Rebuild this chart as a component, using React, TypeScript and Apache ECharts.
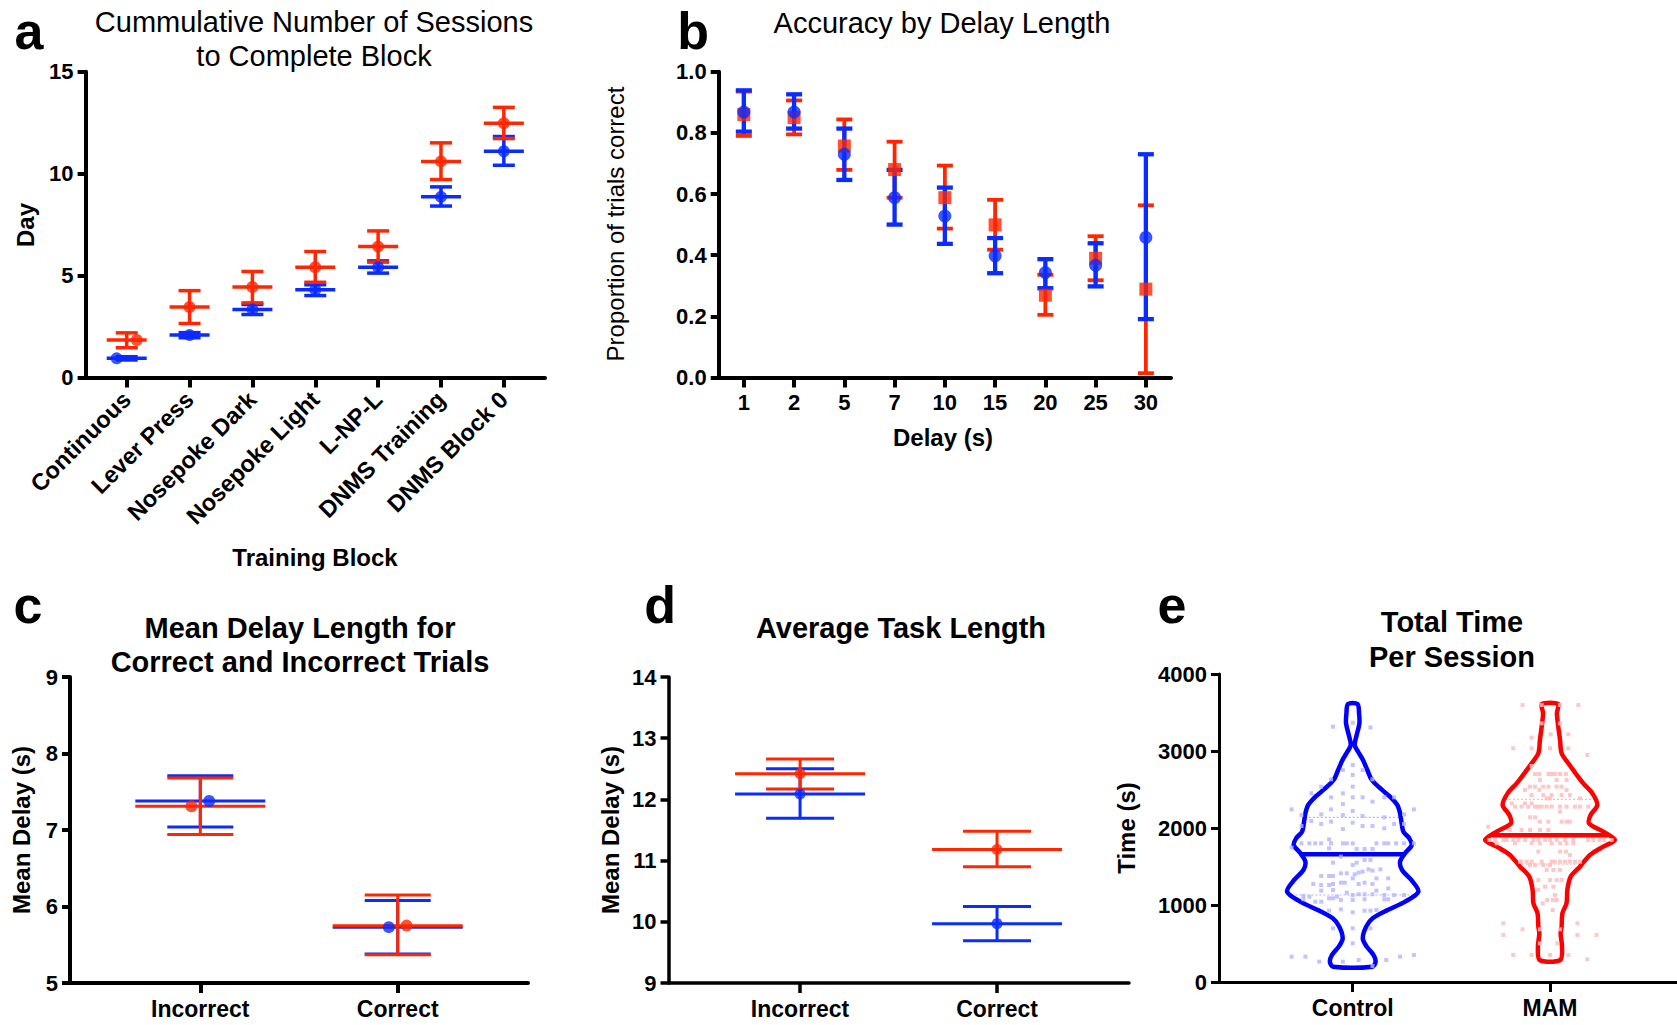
import React, { useEffect, useRef } from 'react';
import * as echarts from 'echarts';

// ---------- Panel a ----------
const aCategories = ['Continuous', 'Lever Press', 'Nosepoke Dark', 'Nosepoke Light', 'L-NP-L', 'DNMS Training', 'DNMS Block 0'];
const aMamMean = [1.84, 3.46, 4.44, 5.41, 6.42, 10.6, 12.47];
const aMamLow = [1.46, 2.65, 3.66, 4.67, 5.66, 9.71, 11.72];
const aMamHigh = [2.19, 4.26, 5.2, 6.18, 7.19, 11.51, 13.25];
const aCtrlMean = [0.94, 2.08, 3.33, 4.31, 5.41, 8.86, 11.1];
const aCtrlLow = [0.86, 1.95, 3.09, 4.02, 5.12, 8.41, 10.41];
const aCtrlHigh = [1.02, 2.2, 3.58, 4.55, 5.72, 9.35, 11.82];
const aMamJitter = [0.16, 0, 0, 0, 0, 0, 0];
const aCtrlJitter = [-0.16, 0, 0, 0, 0, 0, 0];

// ---------- Panel b ----------
const bDelays = ['1', '2', '5', '7', '10', '15', '20', '25', '30'];
const bMamMean = [0.86, 0.85, 0.757, 0.68, 0.588, 0.499, 0.269, 0.39, 0.289];
const bMamLow = [0.79, 0.795, 0.679, 0.588, 0.487, 0.418, 0.205, 0.318, 0.014];
const bMamHigh = [0.935, 0.906, 0.844, 0.771, 0.693, 0.581, 0.336, 0.462, 0.563];
const bCtrlMean = [0.868, 0.868, 0.73, 0.588, 0.528, 0.398, 0.343, 0.367, 0.458];
const bCtrlLow = [0.804, 0.814, 0.646, 0.5, 0.437, 0.341, 0.292, 0.298, 0.191];
const bCtrlHigh = [0.939, 0.926, 0.814, 0.679, 0.621, 0.456, 0.387, 0.439, 0.73];

// ---------- Panel c ----------
const cCategories = ['Incorrect', 'Correct'];
const cMamMean = [7.31, 5.75];
const cMamLow = [6.94, 5.37];
const cMamHigh = [7.68, 6.15];
const cCtrlMean = [7.38, 5.73];
const cCtrlLow = [7.04, 5.38];
const cCtrlHigh = [7.71, 6.08];
const cMamJitter = [-0.045, 0.045];
const cCtrlJitter = [0.045, -0.045];

// ---------- Panel d ----------
const dCategories = ['Incorrect', 'Correct'];
const dMamMean = [12.42, 11.18];
const dMamLow = [12.17, 10.9];
const dMamHigh = [12.66, 11.48];
const dCtrlMean = [12.09, 9.97];
const dCtrlLow = [11.69, 9.69];
const dCtrlHigh = [12.5, 10.25];

// ---------- Panel e ----------
const eGroups = ['Control', 'MAM'];
const eMedian = [1660, 1905];
const eQ1 = [1130, 1532];
const eQ3 = [2139, 2372];
// [value, half width in category units]
const ctrlViolin = [[3610, 0.024], [3489, 0.032], [3359, 0.034], [3208, 0.02], [3078, 0.01], [2991, 0.027], [2883, 0.052], [2753, 0.074], [2623, 0.097], [2494, 0.149], [2407, 0.189], [2299, 0.226], [2190, 0.24], [2061, 0.248], [1952, 0.257], [1866, 0.287], [1779, 0.299], [1671, 0.265], [1563, 0.24], [1455, 0.25], [1325, 0.297], [1173, 0.333], [1043, 0.266], [935, 0.177], [827, 0.101], [719, 0.068], [567, 0.051], [459, 0.071], [351, 0.105], [264, 0.116], [199, 0.1]];
const mamViolin = [[3610, 0.041], [3489, 0.035], [3316, 0.042], [3143, 0.051], [2970, 0.059], [2840, 0.093], [2710, 0.13], [2580, 0.169], [2450, 0.215], [2299, 0.24], [2169, 0.206], [2061, 0.198], [1952, 0.27], [1844, 0.329], [1758, 0.27], [1649, 0.203], [1498, 0.152], [1368, 0.105], [1195, 0.088], [1022, 0.084], [892, 0.063], [719, 0.059], [632, 0.054], [459, 0.061], [286, 0.052]];
// [offset from group centre in category units, seconds]
const ctrlDots = [[-0.10, 3316], [0, 3368], [0.09, 3307], [0, 2818], [-0.05, 2753], [0.05, 2753], [0, 2688], [-0.11, 2632], [0.10, 2632], [-0.16, 2537], [0, 2537], [-0.21, 2450], [-0.05, 2450], [-0.11, 2398], [0, 2398], [0.05, 2398], [0.16, 2398], [0.21, 2398], [0.10, 2342], [-0.05, 2312], [-0.31, 2242], [-0.11, 2242], [0, 2221], [0.31, 2242], [-0.26, 2169], [-0.16, 2177], [-0.05, 2169], [0.05, 2156], [0.26, 2177], [0.16, 2139], [-0.21, 2091], [-0.11, 2082], [0, 2069], [0.21, 2052], [0.26, 2052], [-0.26, 2026], [-0.16, 2052], [-0.05, 1987], [0.05, 2026], [0.10, 2026], [0.16, 1996], [-0.26, 1801], [-0.22, 1801], [-0.19, 1801], [-0.16, 1801], [-0.11, 1801], [-0.05, 1801], [-0.03, 1801], [0, 1801], [0.12, 1801], [0.16, 1801], [0.18, 1801], [0.22, 1801], [0.26, 1801], [0.31, 1801], [-0.31, 1745], [-0.12, 1853], [-0.12, 1736], [0.02, 1727], [0.06, 1727], [0.10, 1727], [-0.06, 1628], [0.06, 1584], [0.02, 1550], [0.09, 1584], [0, 1519], [-0.10, 1550], [0.08, 1463], [0.05, 1433], [0.14, 1463], [-0.16, 1377], [-0.12, 1377], [-0.10, 1377], [-0.06, 1411], [-0.03, 1411], [0.01, 1398], [0.03, 1420], [0.10, 1446], [0, 1346], [0.12, 1346], [0.18, 1346], [-0.20, 1273], [-0.16, 1260], [-0.12, 1260], [-0.10, 1273], [-0.06, 1290], [-0.04, 1290], [0.03, 1273], [0.06, 1290], [0.10, 1273], [-0.16, 1186], [-0.10, 1195], [-0.03, 1160], [0.12, 1186], [0.18, 1216], [-0.25, 1117], [-0.22, 1108], [-0.12, 1087], [-0.08, 1108], [0, 1130], [0.03, 1139], [0.06, 1139], [0.10, 1139], [0.16, 1130], [0.21, 1130], [0.26, 1130], [-0.25, 1074], [-0.19, 1043], [-0.16, 1043], [-0.10, 1087], [-0.06, 1065], [0, 1065], [0.06, 1074], [0.16, 1074], [0.18, 1074], [-0.12, 926], [-0.06, 944], [0, 905], [0.06, 926], [0.09, 926], [0.12, 935], [-0.10, 697], [0, 697], [0.09, 697], [0, 502], [-0.31, 329], [-0.24, 329], [-0.17, 264], [-0.05, 264], [0.03, 286], [0.10, 208], [0.17, 286], [0.24, 329], [0.31, 351]];
const mamDots = [[-0.139, 3597], [-0.042, 3597], [0.051, 3597], [0.144, 3597], [-0.042, 3359], [0.051, 3359], [0.003, 3216], [0.093, 3216], [-0.093, 3173], [-0.186, 3035], [-0.093, 3035], [0, 3035], [0.093, 3035], [0.189, 2948], [-0.093, 2805], [-0.076, 2701], [-0.054, 2701], [-0.008, 2701], [0.008, 2701], [0.025, 2701], [0.051, 2701], [0.081, 2701], [-0.051, 2623], [0.034, 2623], [0.084, 2623], [-0.101, 2537], [-0.076, 2537], [-0.034, 2537], [-0.008, 2537], [0.034, 2537], [0.059, 2537], [-0.127, 2494], [-0.054, 2494], [0.084, 2494], [-0.093, 2429], [-0.034, 2429], [0.008, 2429], [0.059, 2429], [0.101, 2429], [-0.017, 2385], [0, 2385], [0.152, 2385], [-0.194, 2320], [-0.127, 2320], [-0.093, 2320], [-0.177, 2277], [-0.144, 2277], [-0.11, 2277], [-0.076, 2277], [-0.059, 2277], [-0.042, 2277], [-0.017, 2277], [0.008, 2277], [0.051, 2277], [0.084, 2277], [0.127, 2277], [0.152, 2277], [0.194, 2277], [0.051, 2212], [-0.101, 2139], [-0.076, 2139], [-0.051, 2082], [-0.008, 2082], [0.059, 2082], [0.084, 2082], [0.101, 2082], [-0.3125, 2017], [-0.203, 1974], [-0.144, 1974], [-0.101, 1974], [-0.051, 1974], [-0.008, 1974], [-0.307, 1844], [-0.279, 1844], [-0.236, 1844], [-0.22, 1844], [-0.186, 1844], [-0.16, 1844], [-0.127, 1844], [-0.084, 1844], [-0.059, 1844], [-0.025, 1844], [0, 1844], [0.034, 1844], [0.076, 1844], [0.118, 1844], [0.194, 1844], [0.22, 1844], [0.25, 1844], [0.274, 1844], [0.3125, 1844], [-0.27, 1801], [-0.177, 1801], [-0.093, 1801], [-0.051, 1801], [0.008, 1801], [0.051, 1801], [0.084, 1801], [0.118, 1801], [-0.059, 1693], [0.051, 1693], [0.081, 1693], [0.101, 1649], [-0.152, 1563], [-0.144, 1563], [-0.118, 1563], [-0.093, 1563], [-0.042, 1563], [0.008, 1563], [0.025, 1563], [0.051, 1563], [0.076, 1563], [0.101, 1563], [0.127, 1563], [0.152, 1563], [-0.101, 1519], [-0.076, 1519], [-0.034, 1519], [0, 1519], [-0.017, 1455], [0.017, 1455], [0.051, 1455], [-0.059, 1325], [0, 1325], [0.034, 1325], [0.059, 1325], [-0.025, 1238], [0.017, 1238], [-0.059, 1195], [0.025, 1130], [-0.014, 1065], [0.014, 1065], [0.034, 1065], [-0.037, 1022], [0.014, 935], [-0.236, 762], [0.139, 762], [-0.139, 684], [-0.051, 684], [0.051, 684], [-0.236, 610], [0.139, 610], [0.236, 610], [-0.051, 502], [0.037, 502], [-0.186, 351], [-0.093, 351], [0, 351], [0.093, 351], [0.189, 294]];

// ---------- styling ----------
const RED = '#FF2600';
const BLUE = '#0A2CFF';
const VRED = '#FF0000';
const VBLUE = '#0000FF';
const FONT = 'Liberation Sans';

function errRender(meanHW: number, capHW: number, lw: number, color: string, showMean: boolean) {
  return function (_p: any, api: any) {
    const x = api.value(0);
    const pm = api.coord([x, api.value(1)]);
    const pl = api.coord([x, api.value(2)]);
    const ph = api.coord([x, api.value(3)]);
    const style = { stroke: color, lineWidth: lw, fill: null };
    const children: any[] = [
      { type: 'line', shape: { x1: pl[0], y1: pl[1], x2: ph[0], y2: ph[1] }, style },
      { type: 'line', shape: { x1: pl[0] - capHW, y1: pl[1], x2: pl[0] + capHW, y2: pl[1] }, style },
      { type: 'line', shape: { x1: ph[0] - capHW, y1: ph[1], x2: ph[0] + capHW, y2: ph[1] }, style },
    ];
    if (showMean) {
      children.push({ type: 'line', shape: { x1: pm[0] - meanHW, y1: pm[1], x2: pm[0] + meanHW, y2: pm[1] }, style });
    }
    return { type: 'group', children };
  };
}

function hwAt(profile: number[][], v: number) {
  for (let i = 0; i < profile.length - 1; i++) {
    const [v0, h0] = profile[i];
    const [v1, h1] = profile[i + 1];
    if (v <= v0 && v >= v1) {
      const t = (v0 - v) / (v0 - v1);
      return h0 + (h1 - h0) * t;
    }
  }
  return 0;
}

function violinRender(profile: number[][], idx: number, color: string, dotColor: string) {
  return function (_p: any, api: any) {
    const cx = api.value(0);
    const left = profile.map(([v, h]) => api.coord([cx - h, v]));
    const right = profile.slice().reverse().map(([v, h]) => api.coord([cx + h, v]));
    const pts = left.concat(right);
    const line = (val: number, style: any) => {
      const h = hwAt(profile, val);
      const a = api.coord([cx - h, val]);
      const b = api.coord([cx + h, val]);
      return { type: 'line', shape: { x1: a[0], y1: a[1], x2: b[0], y2: b[1] }, style };
    };
    return {
      type: 'group',
      children: [
        line(eQ1[idx], { stroke: dotColor, lineWidth: 1.2, lineDash: [2, 2] }),
        line(eQ3[idx], { stroke: dotColor, lineWidth: 1.2, lineDash: [2, 2] }),
        { type: 'polygon', shape: { points: pts, smooth: 0.3 }, style: { fill: null, stroke: color, lineWidth: 4.5, lineJoin: 'round' } },
        line(eMedian[idx], { stroke: color, lineWidth: 4.5 }),
      ],
    };
  };
}

function yAxisBase(grid: number, min: number, max: number, interval: number, lw: number, fmt: (v: number) => string) {
  return {
    type: 'value', gridIndex: grid, min, max, interval,
    axisLine: { show: true, onZero: false, lineStyle: { color: '#000', width: lw } },
    axisTick: { show: true, length: 8, lineStyle: { color: '#000', width: lw } },
    splitLine: { show: false },
    axisLabel: { color: '#000', fontFamily: FONT, fontWeight: 'bold', fontSize: 22, margin: 12, formatter: fmt },
  };
}

function xValueAxis(grid: number, min: number, max: number, names: string[], lw: number, labelOpts: any = {}) {
  const vals = names.map((_, i) => i);
  return {
    type: 'value', gridIndex: grid, min, max,
    axisLine: { show: true, onZero: false, lineStyle: { color: '#000', width: lw } },
    axisTick: { show: true, length: 10, customValues: vals, lineStyle: { color: '#000', width: lw } },
    splitLine: { show: false },
    axisLabel: Object.assign({ customValues: vals, color: '#000', fontFamily: FONT, fontWeight: 'bold', fontSize: 23, margin: 14, formatter: (v: number) => names[Math.round(v)] }, labelOpts),
  };
}

function errData(x: number[], mean: number[], lo: number[], hi: number[]) {
  return mean.map((m, i) => [x[i], m, lo[i], hi[i]]);
}

function txt(text: string, x: number, y: number, size: number, weight: string, rot = 0, family = FONT, lineHeight?: number) {
  const style: any = { text, fontSize: size, fontWeight: weight, fontFamily: family, fill: '#000', textAlign: 'center', textVerticalAlign: 'middle', align: 'center', verticalAlign: 'middle' };
  if (lineHeight) style.lineHeight = lineHeight;
  return { type: 'text', x, y, rotation: rot, silent: true, style };
}

function buildOption() {
  const aIdx = aCategories.map((_, i) => i);
  const bIdx = bDelays.map((_, i) => i);
  const cIdx = cCategories.map((_, i) => i);
  const dIdx = dCategories.map((_, i) => i);

  const series: any[] = [];
  // panel a
  series.push({ type: 'custom', xAxisIndex: 0, yAxisIndex: 0, renderItem: errRender(20, 11, 3.5, BLUE, true), encode: { x: 0, y: [1, 2, 3] }, data: errData(aIdx, aCtrlMean, aCtrlLow, aCtrlHigh) });
  series.push({ type: 'scatter', xAxisIndex: 0, yAxisIndex: 0, symbol: 'circle', symbolSize: 12, itemStyle: { color: BLUE }, data: aCtrlMean.map((m, i) => [i + aCtrlJitter[i], m]) });
  series.push({ type: 'custom', xAxisIndex: 0, yAxisIndex: 0, renderItem: errRender(20, 11, 3.5, RED, true), encode: { x: 0, y: [1, 2, 3] }, data: errData(aIdx, aMamMean, aMamLow, aMamHigh) });
  series.push({ type: 'scatter', xAxisIndex: 0, yAxisIndex: 0, symbol: 'circle', symbolSize: 12, itemStyle: { color: RED }, data: aMamMean.map((m, i) => [i + aMamJitter[i], m]) });
  // panel b
  series.push({ type: 'custom', xAxisIndex: 1, yAxisIndex: 1, renderItem: errRender(0, 8, 3.8, RED, false), encode: { x: 0, y: [1, 2, 3] }, data: errData(bIdx, bMamMean, bMamLow, bMamHigh) });
  series.push({ type: 'scatter', xAxisIndex: 1, yAxisIndex: 1, symbol: 'rect', symbolSize: 13, itemStyle: { color: RED }, data: bMamMean.map((m, i) => [i, m]) });
  series.push({ type: 'custom', xAxisIndex: 1, yAxisIndex: 1, renderItem: errRender(0, 8, 4.3, BLUE, false), encode: { x: 0, y: [1, 2, 3] }, data: errData(bIdx, bCtrlMean, bCtrlLow, bCtrlHigh) });
  series.push({ type: 'scatter', xAxisIndex: 1, yAxisIndex: 1, symbol: 'circle', symbolSize: 13, itemStyle: { color: BLUE }, data: bCtrlMean.map((m, i) => [i, m]) });
  // panel c
  series.push({ type: 'custom', xAxisIndex: 2, yAxisIndex: 2, renderItem: errRender(65, 33, 3, BLUE, true), encode: { x: 0, y: [1, 2, 3] }, data: errData(cIdx, cCtrlMean, cCtrlLow, cCtrlHigh) });
  series.push({ type: 'scatter', xAxisIndex: 2, yAxisIndex: 2, symbol: 'circle', symbolSize: 12, itemStyle: { color: BLUE }, data: cCtrlMean.map((m, i) => [i + cCtrlJitter[i], m]) });
  series.push({ type: 'custom', xAxisIndex: 2, yAxisIndex: 2, renderItem: errRender(65, 33, 3, RED, true), encode: { x: 0, y: [1, 2, 3] }, data: errData(cIdx, cMamMean, cMamLow, cMamHigh) });
  series.push({ type: 'scatter', xAxisIndex: 2, yAxisIndex: 2, symbol: 'circle', symbolSize: 12, itemStyle: { color: RED }, data: cMamMean.map((m, i) => [i + cMamJitter[i], m]) });
  // panel d
  series.push({ type: 'custom', xAxisIndex: 3, yAxisIndex: 3, renderItem: errRender(65, 34, 3, BLUE, true), encode: { x: 0, y: [1, 2, 3] }, data: errData(dIdx, dCtrlMean, dCtrlLow, dCtrlHigh) });
  series.push({ type: 'scatter', xAxisIndex: 3, yAxisIndex: 3, symbol: 'circle', symbolSize: 11, itemStyle: { color: BLUE }, data: dCtrlMean.map((m, i) => [i, m]) });
  series.push({ type: 'custom', xAxisIndex: 3, yAxisIndex: 3, renderItem: errRender(65, 34, 3, RED, true), encode: { x: 0, y: [1, 2, 3] }, data: errData(dIdx, dMamMean, dMamLow, dMamHigh) });
  series.push({ type: 'scatter', xAxisIndex: 3, yAxisIndex: 3, symbol: 'circle', symbolSize: 11, itemStyle: { color: RED }, data: dMamMean.map((m, i) => [i, m]) });
  // panel e
  series.push({ type: 'scatter', xAxisIndex: 4, yAxisIndex: 4, symbol: 'rect', symbolSize: 4, itemStyle: { color: '#B4B4FF' }, data: ctrlDots.map(([dx, v]) => [0 + dx, v]) });
  series.push({ type: 'scatter', xAxisIndex: 4, yAxisIndex: 4, symbol: 'rect', symbolSize: 4, itemStyle: { color: '#FFBABA' }, data: mamDots.map(([dx, v]) => [1 + dx, v]) });
  series.push({ type: 'custom', xAxisIndex: 4, yAxisIndex: 4, renderItem: violinRender(ctrlViolin, 0, VBLUE, '#B4B4FF'), encode: { x: 0, y: 1 }, data: [[0, eMedian[0]]] });
  series.push({ type: 'custom', xAxisIndex: 4, yAxisIndex: 4, renderItem: violinRender(mamViolin, 1, VRED, '#FFBABA'), encode: { x: 0, y: 1 }, data: [[1, eMedian[1]]] });

  const graphics: any[] = [
    // panel letters
    txt('a', 29, 31, 52, 'bold', 0, FONT, 34),
    txt('b', 693, 31, 52, 'bold', 0, FONT, 34),
    txt('c', 28, 605, 52, 'bold', 0, FONT, 34),
    txt('d', 660, 605, 52, 'bold', 0, FONT, 34),
    txt('e', 1172, 605, 52, 'bold', 0, FONT, 34),
    // titles
    txt('Cummulative Number of Sessions', 314, 22, 29, 'normal'),
    txt('to Complete Block', 314, 56, 29, 'normal'),
    txt('Accuracy by Delay Length', 942, 23, 29, 'normal'),
    txt('Mean Delay Length for', 300, 628, 29, 'bold'),
    txt('Correct and Incorrect Trials', 300, 662, 29, 'bold'),
    txt('Average Task Length', 901, 628, 29, 'bold'),
    txt('Total Time', 1452, 622, 29, 'bold'),
    txt('Per Session', 1452, 657, 29, 'bold'),
    // axis names
    txt('Day', 25, 225, 24, 'bold', Math.PI / 2),
    txt('Training Block', 315, 557, 24, 'bold'),
    txt('Proportion of trials correct', 615, 224, 24, 'normal', Math.PI / 2),
    txt('Delay (s)', 943, 437, 24, 'bold'),
    txt('Mean Delay (s)', 21, 830, 24, 'bold', Math.PI / 2),
    txt('Mean Delay (s)', 610, 830, 24, 'bold', Math.PI / 2),
    txt('Time (s)', 1126, 828, 24, 'bold', Math.PI / 2),
  ];

  const plain = (v: number) => String(v);

  return {
    animation: false,
    backgroundColor: '#ffffff',
    grid: [
      { left: 85.6, top: 71.7, width: 459.4, height: 305.8 },
      { left: 718.7, top: 71.7, width: 452.3, height: 305.8 },
      { left: 70, top: 677, width: 458, height: 306 },
      { left: 668.5, top: 677, width: 460.5, height: 306 },
      { left: 1219, top: 674, width: 458, height: 308 },
    ],
    xAxis: [
      xValueAxis(0, -0.654, 6.655, aCategories, 4, { rotate: 45, fontSize: 23.5, margin: 18 }),
      {
        type: 'category', gridIndex: 1, data: bDelays, boundaryGap: true,
        axisLine: { show: true, onZero: false, lineStyle: { color: '#000', width: 4 } },
        axisTick: { show: true, alignWithLabel: true, length: 10, lineStyle: { color: '#000', width: 4 } },
        axisLabel: { color: '#000', fontFamily: FONT, fontWeight: 'bold', fontSize: 22, margin: 14, interval: 0 },
        splitLine: { show: false },
      },
      xValueAxis(2, -0.66, 1.66, cCategories, 4),
      xValueAxis(3, -0.668, 1.67, dCategories, 3.5),
      xValueAxis(4, -0.678, 1.644, eGroups, 3),
    ],
    yAxis: [
      yAxisBase(0, 0, 15, 5, 4, plain),
      yAxisBase(1, 0, 1, 0.2, 4, (v: number) => v.toFixed(1)),
      yAxisBase(2, 5, 9, 1, 4, plain),
      yAxisBase(3, 9, 14, 1, 3.5, plain),
      yAxisBase(4, 0, 4000, 1000, 3, plain),
    ],
    series,
    graphic: graphics,
  };
}

export default function App() {
  const ref = useRef<HTMLDivElement>(null);
  useEffect(() => {
    const chart = echarts.init(ref.current as HTMLDivElement, null, { renderer: 'svg' });
    chart.setOption(buildOption() as any);
    return () => chart.dispose();
  }, []);
  return (
    <div
      ref={ref}
      style={{ position: 'absolute', left: 0, top: 0, width: 1677, height: 1025, background: '#fff' }}
    />
  );
}
